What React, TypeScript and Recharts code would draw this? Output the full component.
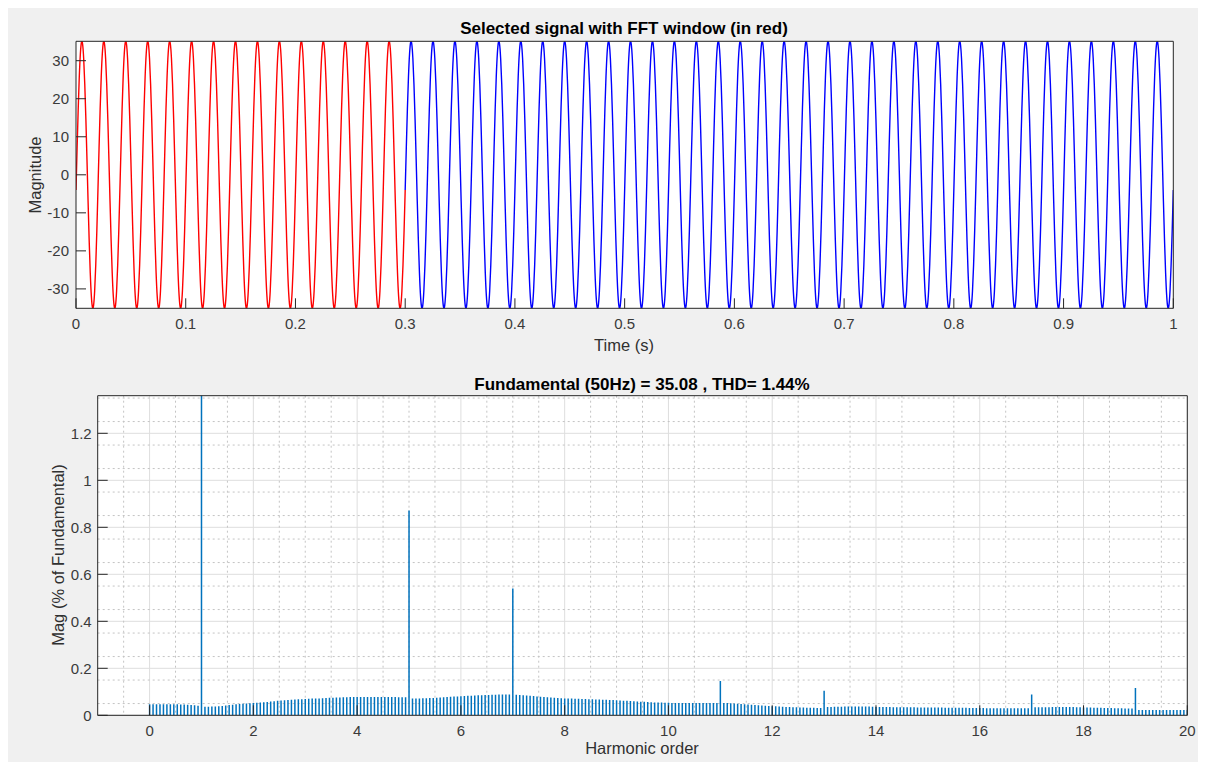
import React from 'react';
import {
  LineChart,
  Line,
  BarChart,
  Bar,
  XAxis,
  YAxis,
  CartesianGrid,
} from 'recharts';

const cycleShape = [
  -4.02, 6.94, 17.23, 25.82, 31.9, 34.85, 34.39, 30.56, 23.73, 14.64,
  4.02, -6.94, -17.23, -25.82, -31.9, -34.85, -34.39, -30.56, -23.73, -14.64,
];
const cycleCount = 50; // 50 Hz over 1 s
const fftWindowCycles = 15; // red part: 0 .. 0.3 s

const timeTicks = [0, 0.1, 0.2, 0.3, 0.4, 0.5, 0.6, 0.7, 0.8, 0.9, 1];
const magnitudeTicks = [-30, -20, -10, 0, 10, 20, 30];

// FFT bins: 15 per harmonic order (0.3 s window), values in % of fundamental
const binsPerHarmonic = 15;
const spectrum = [
  0.047, 0.047, 0.047, 0.047, 0.047, 0.047, 0.047, 0.047, 0.047, 0.046, 0.046, 0.045, 0.044, 0.043, 0.041,
  100, 0.036, 0.036, 0.037, 0.037, 0.038, 0.04, 0.042, 0.044, 0.045, 0.047, 0.048, 0.049, 0.05, 0.051,
  0.052, 0.053, 0.055, 0.056, 0.057, 0.059, 0.06, 0.062, 0.063, 0.064, 0.065, 0.066, 0.067, 0.068, 0.068,
  0.069, 0.07, 0.071, 0.072, 0.072, 0.073, 0.074, 0.075, 0.075, 0.076, 0.076, 0.077, 0.077, 0.078, 0.078,
  0.078, 0.078, 0.078, 0.078, 0.078, 0.078, 0.078, 0.078, 0.078, 0.078, 0.078, 0.078, 0.077, 0.077, 0.077,
  0.871, 0.071, 0.072, 0.072, 0.073, 0.073, 0.074, 0.074, 0.075, 0.076, 0.077, 0.078, 0.079, 0.08, 0.08,
  0.081, 0.082, 0.083, 0.083, 0.084, 0.085, 0.085, 0.086, 0.086, 0.087, 0.087, 0.088, 0.088, 0.088, 0.088,
  0.54, 0.087, 0.086, 0.085, 0.084, 0.083, 0.082, 0.08, 0.079, 0.078, 0.077, 0.076, 0.075, 0.074, 0.073,
  0.072, 0.071, 0.071, 0.07, 0.07, 0.069, 0.069, 0.068, 0.068, 0.067, 0.067, 0.066, 0.066, 0.065, 0.065,
  0.064, 0.063, 0.062, 0.062, 0.061, 0.06, 0.059, 0.058, 0.058, 0.057, 0.056, 0.055, 0.055, 0.054, 0.053,
  0.053, 0.052, 0.052, 0.052, 0.052, 0.052, 0.052, 0.052, 0.052, 0.052, 0.052, 0.052, 0.052, 0.052, 0.052,
  0.146, 0.052, 0.052, 0.051, 0.05, 0.049, 0.048, 0.047, 0.046, 0.045, 0.044, 0.043, 0.042, 0.041, 0.04,
  0.039, 0.038, 0.037, 0.036, 0.035, 0.035, 0.034, 0.034, 0.033, 0.033, 0.032, 0.032, 0.032, 0.031, 0.031,
  0.104, 0.035, 0.035, 0.036, 0.036, 0.036, 0.037, 0.037, 0.037, 0.037, 0.037, 0.037, 0.037, 0.037, 0.036,
  0.035, 0.035, 0.035, 0.035, 0.035, 0.034, 0.034, 0.034, 0.034, 0.034, 0.034, 0.034, 0.033, 0.033, 0.033,
  0.033, 0.033, 0.033, 0.033, 0.033, 0.032, 0.032, 0.032, 0.032, 0.032, 0.032, 0.032, 0.031, 0.031, 0.031,
  0.031, 0.031, 0.03, 0.03, 0.03, 0.03, 0.03, 0.03, 0.03, 0.03, 0.03, 0.03, 0.03, 0.03, 0.03,
  0.088, 0.034, 0.034, 0.034, 0.034, 0.034, 0.035, 0.035, 0.035, 0.035, 0.035, 0.035, 0.035, 0.034, 0.034,
  0.033, 0.033, 0.033, 0.032, 0.032, 0.032, 0.031, 0.031, 0.031, 0.03, 0.03, 0.03, 0.029, 0.029, 0.029,
  0.116, 0.023, 0.023, 0.023, 0.023, 0.023, 0.023, 0.023, 0.023, 0.023, 0.023, 0.023, 0.023, 0.023, 0.023,
  0.023,
];

const harmonicTicks = [0, 2, 4, 6, 8, 10, 12, 14, 16, 18, 20];
const magPctTicks = [0, 0.2, 0.4, 0.6, 0.8, 1, 1.2];

// signal table: red inside FFT window, blue after it
const samplesPerCycle = cycleShape.length;
const windowEndIdx = fftWindowCycles * samplesPerCycle;
const signalData: { t: number; red: number | null; blue: number | null }[] = [];
for (let i = 0; i <= cycleCount * samplesPerCycle; i++) {
  const v = cycleShape[i % samplesPerCycle];
  signalData.push({
    t: i / (cycleCount * samplesPerCycle),
    red: i <= windowEndIdx ? v : null,
    blue: i >= windowEndIdx ? v : null,
  });
}

const spectrumData = spectrum.map((mag, i) => ({ h: i / binsPerHarmonic, mag }));

// minor grid positions
const minorX: number[] = [];
for (let k = -1; k <= 39; k++) if (k % 4 !== 0) minorX.push(k / 2);
const minorY: number[] = [];
for (let k = 1; k <= 27; k++) if (k % 4 !== 0) minorY.push(k / 20);

const FONT = '"Liberation Sans", Arial, Helvetica, sans-serif';
const AX = '#262626';
const tickStyle = { fill: '#3a3a3a', fontSize: 15, fontFamily: FONT };

const fmt = (v: number) => String(Math.round(v * 10) / 10);

const textStyle = (x: number, y: number, extra: React.CSSProperties = {}): React.CSSProperties => ({
  position: 'absolute',
  left: x,
  top: y,
  transform: 'translate(-50%, -50%)',
  whiteSpace: 'nowrap',
  fontFamily: FONT,
  fontSize: 16.5,
  color: '#303030',
  pointerEvents: 'none',
  ...extra,
});

export default function App() {
  return (
    <div style={{ position: 'relative', width: 1198, height: 754, background: '#f0f0f0', overflow: 'hidden' }}>
      <div style={{ position: 'absolute', left: 0, top: 0 }}>
        <LineChart width={1198} height={360} data={signalData} margin={{ top: 32.3, right: 12.7, bottom: 19.7, left: 0 }}>
          <CartesianGrid horizontal={false} vertical={false} fill="#ffffff" />
          <XAxis
            dataKey="t"
            type="number"
            domain={[0, 1]}
            ticks={timeTicks}
            tickFormatter={fmt}
            height={40}
            tickSize={-10}
            tickMargin={20}
            tick={tickStyle}
            stroke={AX}
            allowDataOverflow
          />
          <XAxis xAxisId="top" orientation="top" type="number" domain={[0, 1]} ticks={timeTicks} height={1} tickSize={-10} tick={false} stroke={AX} allowDataOverflow />
          <YAxis
            type="number"
            domain={[-35.1, 35.1]}
            ticks={magnitudeTicks}
            width={68}
            tickSize={-10}
            tickMargin={17}
            tick={tickStyle}
            stroke={AX}
            allowDataOverflow
          />
          <YAxis yAxisId="right" orientation="right" type="number" domain={[-35.1, 35.1]} ticks={magnitudeTicks} width={20} tickSize={-10} tick={false} stroke={AX} allowDataOverflow />
          <Line dataKey="red" type="natural" stroke="#ff0000" strokeWidth={1.4} dot={false} isAnimationActive={false} connectNulls={false} />
          <Line dataKey="blue" type="natural" stroke="#0000ff" strokeWidth={1.4} dot={false} isAnimationActive={false} connectNulls={false} />
        </LineChart>
      </div>

      <div style={{ position: 'absolute', left: 0, top: 360 }}>
        <BarChart width={1198} height={394} data={spectrumData} margin={{ top: 26.7, right: 8.7, bottom: 6.7, left: 0 }}>
          <CartesianGrid fill="#ffffff" stroke="#dedede" horizontalValues={magPctTicks} verticalValues={harmonicTicks} />
          <CartesianGrid stroke="#c4c4c4" strokeDasharray="2 3" horizontalValues={minorY} verticalValues={minorX} />
          <XAxis
            dataKey="h"
            type="number"
            domain={[-1, 20]}
            ticks={harmonicTicks}
            height={40}
            tickSize={-10}
            tickMargin={20}
            tick={tickStyle}
            stroke={AX}
            allowDataOverflow
          />
          <XAxis xAxisId="top" orientation="top" type="number" domain={[-1, 20]} ticks={harmonicTicks} height={1} tickSize={-10} tick={false} stroke={AX} allowDataOverflow />
          <YAxis
            type="number"
            domain={[0, 1.36]}
            ticks={magPctTicks}
            tickFormatter={fmt}
            width={89.7}
            tickSize={-10}
            tickMargin={16}
            tick={tickStyle}
            stroke={AX}
            allowDataOverflow
          />
          <YAxis yAxisId="right" orientation="right" type="number" domain={[0, 1.36]} ticks={magPctTicks} width={10} tickSize={-10} tick={false} stroke={AX} allowDataOverflow />
          <Bar dataKey="mag" fill="#0072bd" barSize={1.5} isAnimationActive={false} />
        </BarChart>
      </div>

      <div style={textStyle(616, 21, { fontWeight: 'bold', fontSize: 17, color: '#000' })}>
        Selected signal with FFT window (in red)
      </div>
      <div style={textStyle(616, 337)}>Time (s)</div>
      <div style={textStyle(27, 167, { transform: 'translate(-50%, -50%) rotate(-90deg)' })}>Magnitude</div>

      <div style={textStyle(634, 377, { fontWeight: 'bold', fontSize: 17, color: '#000' })}>
        Fundamental (50Hz) = 35.08 , THD= 1.44%
      </div>
      <div style={textStyle(634, 740)}>Harmonic order</div>
      <div style={textStyle(50, 547, { transform: 'translate(-50%, -50%) rotate(-90deg)' })}>
        Mag (% of Fundamental)
      </div>
    </div>
  );
}
